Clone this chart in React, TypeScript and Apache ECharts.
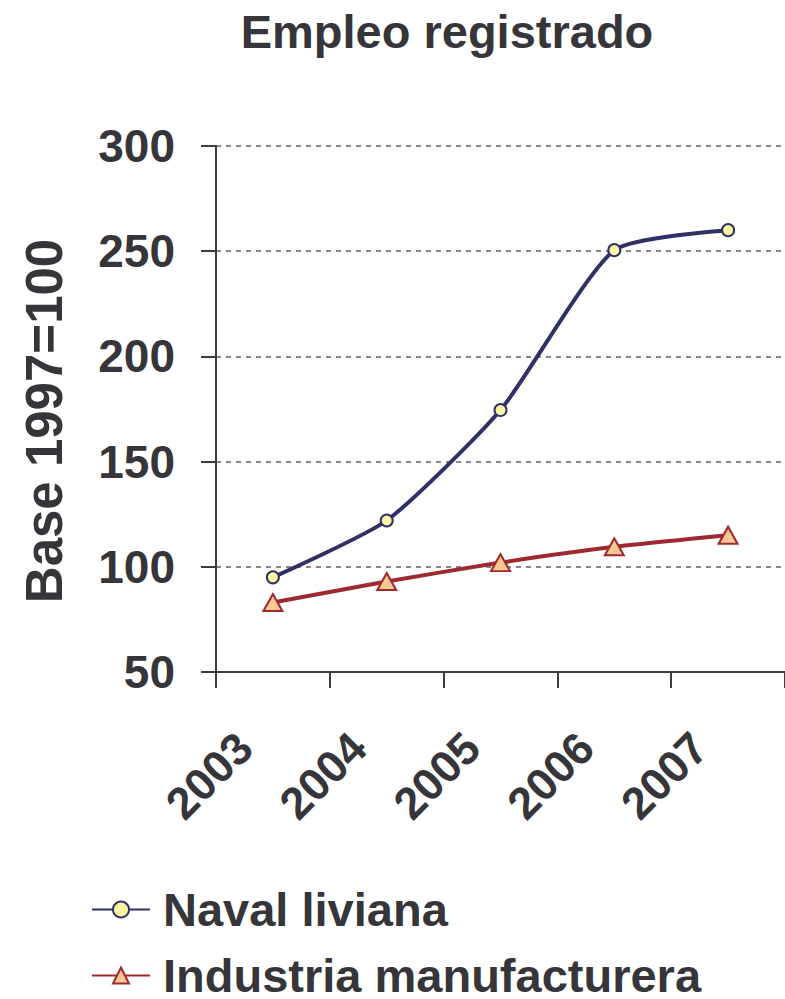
import React, { useEffect, useRef } from "react";
import * as echarts from "echarts";

const titleText = "Empleo registrado";
const yAxisTitle = "Base 1997=100";
const years = ["2003", "2004", "2005", "2006", "2007"];
const navalName = "Naval liviana";
const navalValues = [95, 122, 174.5, 250.5, 260];
const industriaName = "Industria manufacturera";
const industriaValues = [83, 93, 102, 109.5, 115];

const FONT = "'Liberation Sans', Arial, Helvetica, sans-serif";
const TEXT = "#35353a";

const legendBase = {
  orient: "horizontal",
  left: 91,
  padding: 0,
  itemWidth: 58,
  itemHeight: 20,
  textStyle: {
    color: TEXT,
    fontFamily: FONT,
    fontWeight: "bold",
    fontSize: 47,
    lineHeight: 46,
    padding: [0, 0, 0, 8],
  },
};

export default function App() {
  const ref = useRef<HTMLDivElement>(null);
  useEffect(() => {
    if (!ref.current) return;
    const chart = echarts.init(ref.current, undefined, { renderer: "svg" });
    chart.setOption({
      animation: false,
      backgroundColor: "#ffffff",
      graphic: [
        {
          type: "text",
          x: 447,
          y: 31,
          style: {
            text: titleText,
            fill: TEXT,
            font: `bold 47px ${FONT}`,
            textAlign: "center",
            textVerticalAlign: "middle",
          },
        },
        {
          type: "text",
          x: 44,
          y: 421,
          rotation: Math.PI / 2,
          style: {
            text: yAxisTitle,
            fill: TEXT,
            font: `bold 51px ${FONT}`,
            textAlign: "center",
            textVerticalAlign: "middle",
          },
        },
      ],
      grid: { left: 216, top: 146, width: 575, height: 526, containLabel: false },
      legend: [
        { ...legendBase, top: 886, data: [navalName] },
        { ...legendBase, top: 952, data: [industriaName] },
      ],
      xAxis: {
        type: "category",
        data: years,
        boundaryGap: true,
        axisLine: { lineStyle: { color: "#3c3c42", width: 2 } },
        axisTick: { show: true, length: 16, interval: 0, lineStyle: { color: "#3c3c42", width: 2 } },
        axisLabel: {
          rotate: 45,
          interval: 0,
          margin: 40,
          padding: [0, 40, 0, 0],
          color: TEXT,
          fontFamily: FONT,
          fontWeight: "bold",
          fontSize: 45,
        },
        splitLine: { show: false },
      },
      yAxis: {
        type: "value",
        min: 50,
        max: 300,
        interval: 50,
        axisLine: { show: true, lineStyle: { color: "#3c3c42", width: 2 } },
        axisTick: { show: true, length: 15, lineStyle: { color: "#3c3c42", width: 2 } },
        axisLabel: {
          margin: 41,
          color: TEXT,
          fontFamily: FONT,
          fontWeight: "bold",
          fontSize: 46,
        },
        splitLine: {
          show: true,
          lineStyle: { color: "#8c8585", width: 2, type: [5, 5] },
        },
      },
      series: [
        {
          name: navalName,
          type: "line",
          data: navalValues,
          smooth: 0.2,
          symbol: "circle",
          symbolSize: 12,
          lineStyle: { color: "#2f3066", width: 4 },
          itemStyle: { color: "#fdf6a3", borderColor: "#2f3066", borderWidth: 2 },
          z: 3,
        },
        {
          name: industriaName,
          type: "line",
          data: industriaValues,
          smooth: 0.2,
          symbol: "triangle",
          symbolSize: [19, 17],
          lineStyle: { color: "#9e2a30", width: 4 },
          itemStyle: { color: "#fbc793", borderColor: "#9e2a30", borderWidth: 2 },
          z: 2,
        },
      ],
    });
    return () => chart.dispose();
  }, []);
  return (
    <div
      ref={ref}
      style={{ position: "fixed", left: 0, top: 0, width: 785, height: 999 }}
    />
  );
}
